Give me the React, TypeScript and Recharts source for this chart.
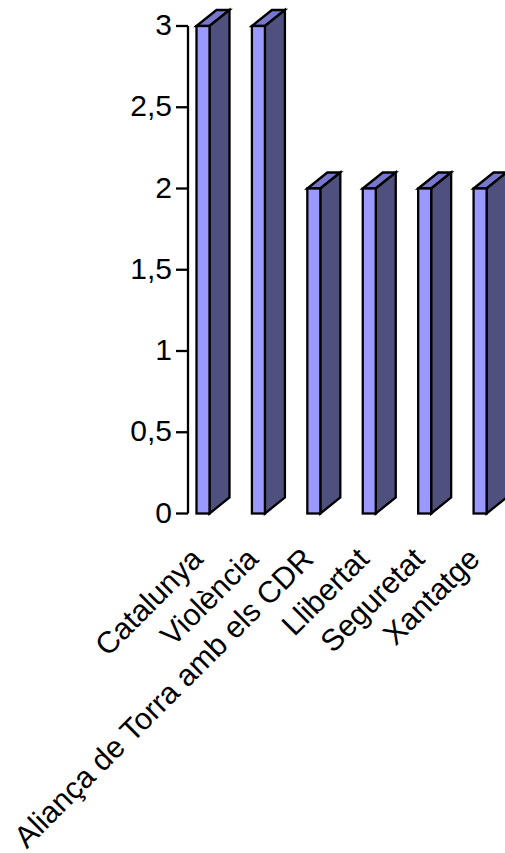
import { BarChart, Bar, XAxis, YAxis } from "recharts";

const categories = [
  "Catalunya",
  "Violència",
  "Aliança de Torra amb els CDR",
  "Llibertat",
  "Seguretat",
  "Xantatge",
];
const counts = [3, 3, 2, 2, 2, 2];
const yTicks = [0, 0.5, 1, 1.5, 2, 2.5, 3];

const data = categories.map((name, i) => ({ name, count: counts[i] }));

const DEPTH_X = 20;
const DEPTH_Y = 16;

// excel style fake 3d column, front face comes from the bar's own rect
function Column3D({ x, y, width, height }: any) {
  const r = x + width;
  const b = y + height;
  const dx = DEPTH_X;
  const dy = DEPTH_Y;
  return (
    <g stroke="#000" strokeWidth={2.3} strokeLinejoin="miter">
      <path
        d={`M${x} ${y}L${x + dx} ${y - dy}L${r + dx} ${y - dy}L${r} ${y}Z`}
        fill="#7777cc"
      />
      <path
        d={`M${r} ${y}L${r + dx} ${y - dy}L${r + dx} ${b - dy}L${r} ${b}Z`}
        fill="#50507f"
      />
      <rect x={x} y={y} width={width} height={height} fill="#9999ff" />
    </g>
  );
}

function fmtTick(v: number) {
  return String(v).replace(".", ",");
}

export default function App() {
  return (
    <div style={{ position: "absolute", left: 0, top: 0, width: 505, height: 853, overflow: "hidden" }}>
      <BarChart
        width={505}
        height={853}
        data={data}
        margin={{ top: 26, right: 0, bottom: 0, left: 0 }}
        style={{ fontFamily: "'Liberation Sans', Arial, sans-serif" }}
      >
        <XAxis
          dataKey="name"
          interval={0}
          height={339.5}
          padding={{ left: -12.5, right: -3 }}
          axisLine={false}
          tickLine={false}
          angle={-45}
          textAnchor="end"
          tickMargin={26}
          tick={{ fill: "#000", fontSize: 30.4, dx: -14 }}
        />
        <YAxis
          width={188}
          domain={[0, 3]}
          ticks={yTicks}
          tickFormatter={fmtTick}
          axisLine={{ stroke: "#000", strokeWidth: 2.3 }}
          tickLine={{ stroke: "#000", strokeWidth: 2.3 }}
          tickSize={12}
          tickMargin={4}
          tick={{ fill: "#000", fontSize: 30, dy: -1.5 }}
        />
        <Bar dataKey="count" barSize={13} shape={<Column3D />} isAnimationActive={false} />
      </BarChart>
    </div>
  );
}
